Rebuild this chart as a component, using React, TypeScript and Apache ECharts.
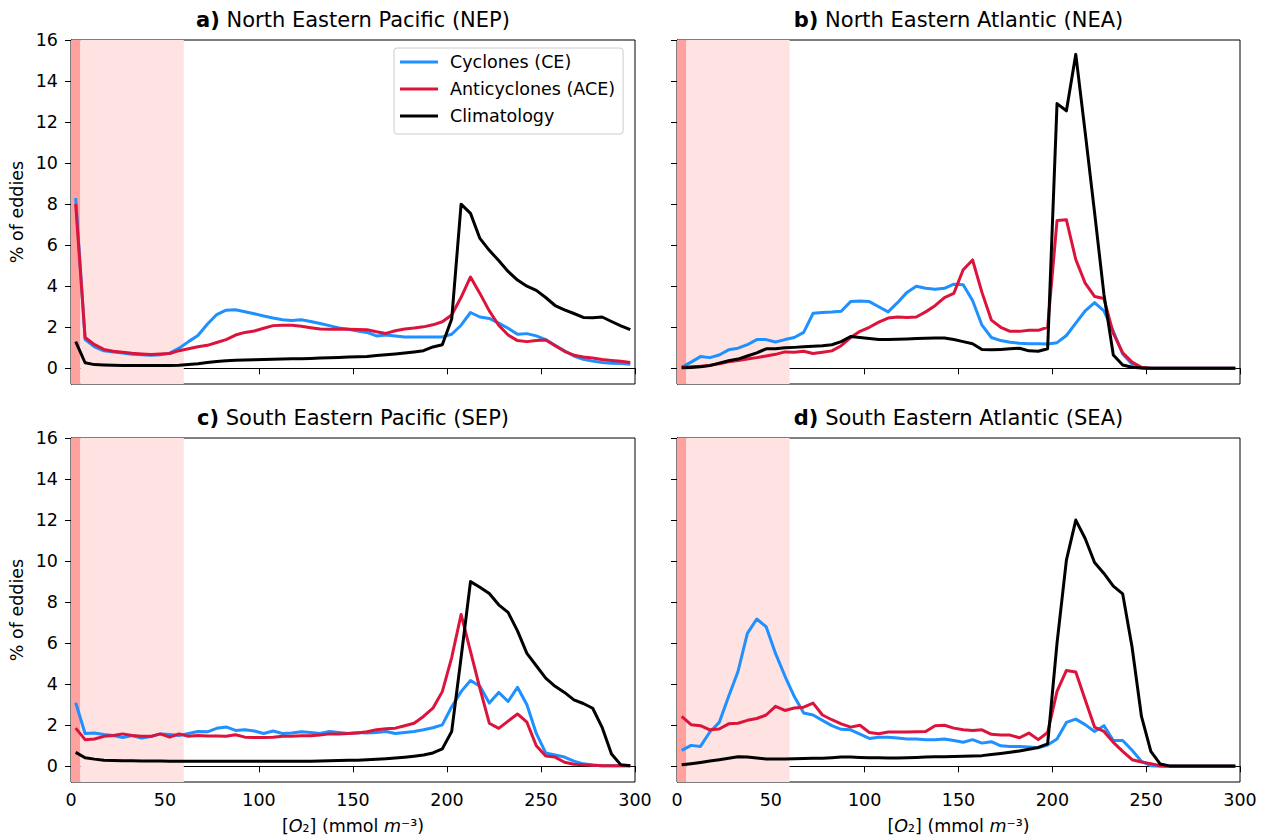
import React, { useEffect, useRef } from "react";
import * as echarts from "echarts";

// Oxygen bins (mmol m-3): 5-wide bins, values plotted at bin centres
const BIN_WIDTH = 5;
const O2_BINS = Array.from({ length: 60 }, (_, i) => BIN_WIDTH / 2 + i * BIN_WIDTH);

// % of eddies per oxygen bin
const NEP_CE = [8.3, 1.4, 1.05, 0.85, 0.8, 0.75, 0.68, 0.66, 0.64, 0.66, 0.74, 0.98, 1.3, 1.6, 2.15, 2.62, 2.83, 2.85, 2.76, 2.66, 2.55, 2.45, 2.37, 2.33, 2.37, 2.28, 2.18, 2.08, 1.97, 1.9, 1.82, 1.75, 1.58, 1.62, 1.58, 1.53, 1.53, 1.53, 1.53, 1.53, 1.66, 2.1, 2.72, 2.5, 2.43, 2.2, 1.95, 1.66, 1.69, 1.58, 1.4, 1.12, 0.85, 0.6, 0.44, 0.35, 0.28, 0.25, 0.23, 0.2];
const NEP_ACE = [8.0, 1.5, 1.15, 0.92, 0.83, 0.78, 0.73, 0.7, 0.67, 0.7, 0.72, 0.86, 0.95, 1.05, 1.12, 1.26, 1.4, 1.62, 1.75, 1.82, 1.95, 2.08, 2.1, 2.1, 2.05, 1.98, 1.92, 1.9, 1.92, 1.9, 1.89, 1.88, 1.78, 1.7, 1.83, 1.92, 1.96, 2.02, 2.12, 2.27, 2.6, 3.46, 4.45, 3.65, 2.8, 2.1, 1.62, 1.35, 1.3, 1.36, 1.38, 1.1, 0.83, 0.64, 0.55, 0.5, 0.43, 0.38, 0.34, 0.28];
const NEP_CLIM = [1.3, 0.27, 0.18, 0.16, 0.15, 0.14, 0.14, 0.14, 0.14, 0.14, 0.14, 0.15, 0.18, 0.22, 0.28, 0.33, 0.37, 0.39, 0.41, 0.42, 0.43, 0.44, 0.45, 0.46, 0.47, 0.48, 0.5, 0.51, 0.53, 0.55, 0.56, 0.58, 0.62, 0.66, 0.7, 0.75, 0.8, 0.86, 1.04, 1.15, 2.4, 8.0, 7.55, 6.33, 5.75, 5.25, 4.72, 4.3, 4.0, 3.8, 3.45, 3.06, 2.85, 2.67, 2.48, 2.46, 2.5, 2.28, 2.07, 1.88];

const NEA_CE = [0.05, 0.3, 0.57, 0.52, 0.65, 0.9, 0.98, 1.15, 1.4, 1.4, 1.28, 1.4, 1.5, 1.75, 2.68, 2.72, 2.74, 2.78, 3.25, 3.28, 3.25, 3.0, 2.75, 3.2, 3.7, 4.0, 3.9, 3.85, 3.9, 4.1, 4.07, 3.3, 2.1, 1.5, 1.35, 1.27, 1.22, 1.2, 1.2, 1.18, 1.25, 1.6, 2.2, 2.8, 3.2, 2.8, 1.8, 0.7, 0.2, 0.02, 0, 0, 0, 0, 0, 0, 0, 0, 0, 0];
const NEA_ACE = [0.05, 0.07, 0.1, 0.15, 0.22, 0.32, 0.38, 0.45, 0.52, 0.6, 0.68, 0.8, 0.78, 0.83, 0.72, 0.78, 0.85, 1.1, 1.5, 1.8, 2.0, 2.25, 2.45, 2.5, 2.48, 2.5, 2.75, 3.05, 3.45, 3.65, 4.8, 5.28, 3.7, 2.35, 2.0, 1.8, 1.8, 1.85, 1.85, 2.0, 7.2, 7.24, 5.3, 4.15, 3.5, 3.4, 1.7, 0.75, 0.3, 0.05, 0, 0, 0, 0, 0, 0, 0, 0, 0, 0];
const NEA_CLIM = [0.03, 0.04, 0.07, 0.13, 0.25, 0.37, 0.45, 0.6, 0.75, 0.95, 0.95, 1.0, 1.02, 1.05, 1.07, 1.1, 1.15, 1.3, 1.55, 1.5, 1.45, 1.4, 1.4, 1.42, 1.43, 1.45, 1.47, 1.48, 1.48, 1.4, 1.3, 1.2, 0.92, 0.9, 0.92, 0.95, 0.98, 0.85, 0.83, 0.95, 12.9, 12.55, 15.3, 11.5, 7.6, 3.6, 0.65, 0.16, 0.05, 0.02, 0, 0, 0, 0, 0, 0, 0, 0, 0, 0];

const SEP_CE = [3.1, 1.6, 1.62, 1.55, 1.5, 1.4, 1.5, 1.38, 1.45, 1.58, 1.55, 1.5, 1.6, 1.7, 1.68, 1.85, 1.92, 1.75, 1.78, 1.72, 1.6, 1.72, 1.6, 1.62, 1.68, 1.65, 1.6, 1.7, 1.65, 1.6, 1.65, 1.62, 1.65, 1.7, 1.6, 1.65, 1.7, 1.78, 1.88, 2.02, 2.9, 3.64, 4.18, 3.9, 3.08, 3.6, 3.16, 3.85, 3.0, 1.6, 0.65, 0.55, 0.45, 0.25, 0.12, 0.06, 0.03, 0.03, 0.03, 0.03];
const SEP_ACE = [1.86, 1.3, 1.33, 1.46, 1.5, 1.58, 1.5, 1.46, 1.46, 1.58, 1.42, 1.58, 1.46, 1.5, 1.48, 1.48, 1.46, 1.54, 1.42, 1.4, 1.4, 1.42, 1.46, 1.46, 1.49, 1.49, 1.52, 1.58, 1.58, 1.6, 1.62, 1.68, 1.78, 1.83, 1.86, 1.98, 2.1, 2.43, 2.83, 3.64, 5.3, 7.4, 5.6, 3.8, 2.1, 1.85, 2.2, 2.55, 2.15, 1.0, 0.5, 0.45, 0.2, 0.1, 0.08, 0.05, 0.03, 0.03, 0.03, 0.03];
const SEP_CLIM = [0.68, 0.42, 0.35, 0.3, 0.28, 0.27, 0.27, 0.26, 0.26, 0.26, 0.25, 0.25, 0.25, 0.25, 0.25, 0.25, 0.25, 0.25, 0.25, 0.25, 0.25, 0.25, 0.25, 0.25, 0.25, 0.25, 0.26, 0.27, 0.28, 0.29, 0.3, 0.32, 0.34, 0.37, 0.4, 0.44, 0.49, 0.55, 0.65, 0.85, 1.7, 5.3, 9.0, 8.73, 8.42, 7.87, 7.5, 6.6, 5.5, 4.9, 4.3, 3.9, 3.6, 3.24, 3.06, 2.83, 1.9, 0.6, 0.07, 0.03];

const SEA_CE = [0.78, 1.02, 0.97, 1.67, 2.14, 3.4, 4.62, 6.48, 7.18, 6.8, 5.5, 4.4, 3.4, 2.6, 2.5, 2.24, 1.98, 1.8, 1.78, 1.57, 1.36, 1.42, 1.42, 1.38, 1.33, 1.33, 1.3, 1.3, 1.33, 1.26, 1.17, 1.3, 1.13, 1.2, 1.0, 0.97, 0.97, 0.94, 0.9, 1.04, 1.33, 2.14, 2.3, 2.03, 1.7, 1.98, 1.26, 1.26, 0.78, 0.24, 0.03, 0, 0, 0, 0, 0, 0, 0, 0, 0];
const SEA_ACE = [2.43, 2.03, 1.98, 1.78, 1.82, 2.07, 2.1, 2.24, 2.33, 2.5, 2.92, 2.72, 2.84, 2.88, 3.08, 2.5, 2.27, 2.07, 1.91, 2.0, 1.65, 1.59, 1.67, 1.67, 1.67, 1.68, 1.7, 1.98, 2.0, 1.86, 1.78, 1.75, 1.78, 1.56, 1.52, 1.52, 1.39, 1.62, 1.3, 1.65, 3.65, 4.67, 4.6, 3.24, 1.91, 1.7, 1.17, 0.73, 0.32, 0.21, 0.13, 0.03, 0, 0, 0, 0, 0, 0, 0, 0];
const SEA_CLIM = [0.08, 0.13, 0.19, 0.26, 0.32, 0.39, 0.47, 0.45, 0.4, 0.36, 0.36, 0.36, 0.37, 0.38, 0.39, 0.39, 0.42, 0.45, 0.45, 0.43, 0.42, 0.42, 0.41, 0.41, 0.42, 0.43, 0.45, 0.46, 0.47, 0.48, 0.49, 0.5, 0.52, 0.57, 0.62, 0.68, 0.75, 0.83, 0.92, 1.09, 6.0, 10.05, 12.0, 11.1, 9.93, 9.4, 8.78, 8.4, 5.8, 2.43, 0.73, 0.11, 0.02, 0.02, 0.02, 0.02, 0.02, 0.02, 0.02, 0.02];

// Axis ticks
const X_MIN = 0;
const X_MAX = 300;
const X_STEP = 50;
const Y_TICKS = [0, 2, 4, 6, 8, 10, 12, 14, 16];
const Y_MIN = -0.765;
const Y_MAX = 16;

// Oxygen thresholds shaded in every panel (mmol m-3)
const ANOXIC_BAND = [0, 5];
const HYPOXIC_BAND = [5, 60];

const SERIES_NAMES = ["Cyclones (CE)", "Anticyclones (ACE)", "Climatology"];

const PANELS = [
  { tag: "a)", region: "North Eastern Pacific (NEP)", ce: NEP_CE, ace: NEP_ACE, clim: NEP_CLIM },
  { tag: "b)", region: "North Eastern Atlantic (NEA)", ce: NEA_CE, ace: NEA_ACE, clim: NEA_CLIM },
  { tag: "c)", region: "South Eastern Pacific (SEP)", ce: SEP_CE, ace: SEP_ACE, clim: SEP_CLIM },
  { tag: "d)", region: "South Eastern Atlantic (SEA)", ce: SEA_CE, ace: SEA_ACE, clim: SEA_CLIM },
];

const FONT = "DejaVu Sans";
const BASE_SIZE = 17.5;
const TITLE_SIZE = 21;
const COLORS = ["#1E90FF", "#DC143C", "#000000"];

const GRIDS = [
  { left: 71, top: 40, width: 564, height: 344 },
  { left: 677, top: 40, width: 563, height: 344 },
  { left: 71, top: 438, width: 564, height: 344 },
  { left: 677, top: 438, width: 563, height: 344 },
];

function buildOption() {
  const grid = GRIDS.map((g) => ({
    ...g,
    show: true,
    borderColor: "#000",
    borderWidth: 1,
    backgroundColor: "transparent",
  }));

  const xAxis = GRIDS.map((_, i) => {
    const bottom = i >= 2;
    return {
      type: "value",
      gridIndex: i,
      min: X_MIN,
      max: X_MAX,
      interval: X_STEP,
      splitLine: { show: false },
      axisLine: { show: true, lineStyle: { color: "#000", width: 1 } },
      axisTick: { show: true, inside: false, length: 6, lineStyle: { color: "#000", width: 1 } },
      axisLabel: {
        show: bottom,
        color: "#000",
        fontFamily: FONT,
        fontSize: BASE_SIZE,
        margin: 9,
      },
      name: bottom ? "[{i|O}₂] (mmol {i|m}⁻³)" : "",
      nameLocation: "middle",
      nameGap: 35,
      nameTextStyle: {
        color: "#000",
        fontFamily: FONT,
        fontSize: BASE_SIZE,
        rich: {
          i: { fontStyle: "italic", fontFamily: FONT, fontSize: BASE_SIZE, color: "#000" },
        },
      },
    };
  });

  const yAxis = GRIDS.map((_, i) => {
    const left = i % 2 === 0;
    return {
      type: "value",
      gridIndex: i,
      min: Y_MIN,
      max: Y_MAX,
      splitLine: { show: false },
      axisLine: { show: true, lineStyle: { color: "#000", width: 1 } },
      axisTick: {
        show: true,
        inside: false,
        length: 6,
        customValues: Y_TICKS,
        lineStyle: { color: "#000", width: 1 },
      },
      axisLabel: {
        show: left,
        customValues: Y_TICKS,
        color: "#000",
        fontFamily: FONT,
        fontSize: BASE_SIZE,
        margin: 13,
      },
      name: left ? "% of eddies" : "",
      nameLocation: "middle",
      nameGap: 45,
      nameTextStyle: { color: "#000", fontFamily: FONT, fontSize: BASE_SIZE },
    };
  });

  const title = PANELS.map((p, i) => {
    const g = GRIDS[i];
    return {
      text: `{b|${p.tag}} ${p.region}`,
      left: g.left + g.width / 2,
      top: g.top - 31,
      padding: 0,
      textAlign: "center",
      textStyle: {
        fontFamily: FONT,
        fontSize: TITLE_SIZE,
        fontWeight: "normal",
        color: "#000",
        rich: {
          b: { fontFamily: FONT, fontSize: TITLE_SIZE, fontWeight: "bold", color: "#000" },
        },
      },
    };
  });

  const series: any[] = [];
  PANELS.forEach((p, i) => {
    // oxygen-threshold shading behind the curves
    series.push({
      type: "line",
      xAxisIndex: i,
      yAxisIndex: i,
      data: [],
      silent: true,
      z: 1,
      markArea: {
        silent: true,
        data: [
          [
            { xAxis: ANOXIC_BAND[0], itemStyle: { color: "#ffa19f" } },
            { xAxis: ANOXIC_BAND[1] },
          ],
          [
            { xAxis: HYPOXIC_BAND[0], itemStyle: { color: "#ffe2e2" } },
            { xAxis: HYPOXIC_BAND[1] },
          ],
        ],
      },
    });
    [p.ce, p.ace, p.clim].forEach((vals, k) => {
      series.push({
        name: SERIES_NAMES[k],
        type: "line",
        xAxisIndex: i,
        yAxisIndex: i,
        z: 3 + k,
        showSymbol: false,
        symbol: "none",
        color: COLORS[k],
        itemStyle: { color: COLORS[k] },
        lineStyle: { color: COLORS[k], width: 3, join: "round" },
        data: O2_BINS.map((x, j) => [x, vals[j]]),
      });
    });
  });

  return {
    animation: false,
    backgroundColor: "#ffffff",
    textStyle: { fontFamily: FONT },
    title,
    grid,
    xAxis,
    yAxis,
    legend: {
      data: SERIES_NAMES,
      orient: "vertical",
      left: 394,
      top: 48,
      icon: "rect",
      itemWidth: 38,
      itemHeight: 3,
      itemGap: 7,
      padding: [4, 8, 8, 6],
      borderColor: "#cccccc",
      borderWidth: 1,
      borderRadius: 3,
      backgroundColor: "rgba(255,255,255,0.85)",
      selectedMode: false,
      textStyle: {
        color: "#000",
        fontFamily: FONT,
        fontSize: BASE_SIZE,
        lineHeight: 20,
        padding: [0, 0, 0, 7],
      },
    },
    series,
  };
}

export default function App() {
  const ref = useRef<HTMLDivElement>(null);

  useEffect(() => {
    if (!ref.current) return;
    const chart = echarts.init(ref.current, undefined, { renderer: "svg" });
    chart.setOption(buildOption() as any);
    return () => chart.dispose();
  }, []);

  return (
    <div
      ref={ref}
      style={{ position: "absolute", left: 0, top: 0, width: 1262, height: 840, background: "#fff" }}
    />
  );
}
